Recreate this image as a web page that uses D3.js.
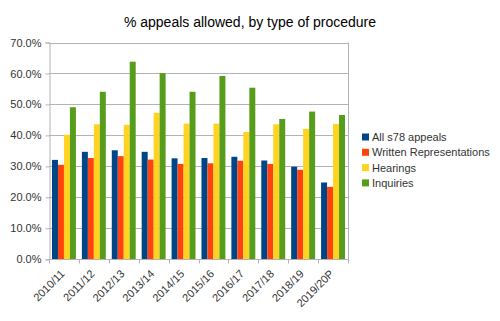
<!DOCTYPE html>
<html>
<head>
<meta charset="utf-8">
<script src="https://cdn.jsdelivr.net/npm/d3@7"></script>
<style>
  body { margin: 0; background: #fff; }
  text { font-family: "Liberation Sans", Arial, sans-serif; }
</style>
</head>
<body>
<svg width="500" height="321"></svg>
<script>
const years = ["2010/11", "2011/12", "2012/13", "2013/14", "2014/15", "2015/16", "2016/17", "2017/18", "2018/19", "2019/20P"];
const seriesNames = ["All s78 appeals", "Written Representations", "Hearings", "Inquiries"];
const allS78 = [32.1, 34.7, 35.2, 34.7, 32.6, 32.7, 33.1, 31.9, 29.9, 24.8];
const written = [30.5, 32.7, 33.3, 32.2, 30.8, 31.0, 31.8, 30.8, 28.9, 23.4];
const hearings = [40.2, 43.6, 43.4, 47.3, 43.8, 43.8, 41.1, 43.6, 42.1, 43.7];
const inquiries = [49.1, 54.1, 63.8, 60.1, 54.1, 59.2, 55.4, 45.3, 47.7, 46.6];
const yTicks = [0, 10, 20, 30, 40, 50, 60, 70];
const colors = ["#004586", "#ff420e", "#ffd320", "#579d1c"];

const seriesValues = [allS78, written, hearings, inquiries];

let svg = d3.select("svg");
let plotLeft = 49, plotRight = 348, plotTop = 42.5, plotBottom = 259.3;

svg.append("text")
  .attr("x", 250)
  .attr("y", 27)
  .attr("text-anchor", "middle")
  .attr("font-size", "14px")
  .attr("fill", "#000")
  .text("% appeals allowed, by type of procedure");

let xScale = d3.scaleBand().domain(years).range([plotLeft, plotRight]).paddingInner(0.2).paddingOuter(0.1);
let xOuter = d3.scaleBand().domain(years).range([plotLeft, plotRight]);
let sub = d3.scaleBand().domain(d3.range(4)).range([0, xScale.bandwidth()]);
let yScale = d3.scaleLinear().domain([0, 70]).range([plotBottom, plotTop]);

// gridlines
svg.append("g")
  .selectAll("line")
  .data(yTicks)
  .enter()
  .append("line")
  .attr("x1", plotLeft)
  .attr("x2", plotRight)
  .attr("y1", d => Math.round(yScale(d)) + 0.5)
  .attr("y2", d => Math.round(yScale(d)) + 0.5)
  .attr("stroke", "#b3b3b3");

svg.append("line")
  .attr("x1", plotRight + 0.5).attr("x2", plotRight + 0.5)
  .attr("y1", plotTop).attr("y2", plotBottom)
  .attr("stroke", "#b3b3b3");

// bars
let groups = svg.append("g")
  .selectAll("g")
  .data(seriesValues)
  .enter()
  .append("g")
  .attr("fill", (d, i) => colors[i]);

groups.each(function (vals, si) {
  d3.select(this)
    .selectAll("rect")
    .data(vals)
    .enter()
    .append("rect")
    .attr("x", (d, i) => xScale(years[i]) + sub(si))
    .attr("width", sub.bandwidth())
    .attr("y", d => yScale(d))
    .attr("height", d => yScale(0) - yScale(d));
});

// y axis
let yAxis = svg.append("g")
  .attr("transform", "translate(" + (plotLeft + 0.5) + ",0)")
  .call(d3.axisLeft(yScale).tickValues(yTicks).tickSize(4).tickPadding(4)
    .tickFormat(d => d.toFixed(1) + "%"));
yAxis.select(".domain").attr("stroke", "#b3b3b3");
yAxis.selectAll(".tick line").attr("stroke", "#b3b3b3");
yAxis.selectAll("text").attr("font-size", "11px").attr("fill", "#333").attr("font-family", null);

// x axis
let xAxisG = svg.append("g")
  .attr("transform", "translate(0," + (Math.round(plotBottom) + 0.5) + ")");
xAxisG.append("line")
  .attr("x1", plotLeft).attr("x2", plotRight + 1)
  .attr("stroke", "#b3b3b3");
xAxisG.selectAll(".tk")
  .data(years.concat(["end"]))
  .enter()
  .append("line")
  .attr("x1", (d, i) => Math.round(plotLeft + i * xOuter.step()) + 0.5)
  .attr("x2", (d, i) => Math.round(plotLeft + i * xOuter.step()) + 0.5)
  .attr("y1", 0).attr("y2", 4)
  .attr("stroke", "#b3b3b3");
xAxisG.selectAll(".lbl")
  .data(years)
  .enter()
  .append("text")
  .attr("font-size", "11px")
  .attr("fill", "#333")
  .attr("text-anchor", "end")
  .attr("transform", d => "translate(" + (xOuter(d) + xOuter.bandwidth() / 2 + 1.5) + ",15) rotate(-45)")
  .text(d => d);

// legend
let legend = svg.append("g")
  .selectAll("g")
  .data(seriesNames)
  .enter()
  .append("g")
  .attr("transform", (d, i) => "translate(362," + (137 + i * 15.3) + ")");
legend.append("rect")
  .attr("x", 0).attr("y", -3.5)
  .attr("width", 7).attr("height", 7)
  .attr("fill", (d, i) => colors[i]);
legend.append("text")
  .attr("x", 10)
  .attr("y", 4)
  .attr("font-size", "11px")
  .attr("fill", "#333")
  .text(d => d);
</script>
</body>
</html>
